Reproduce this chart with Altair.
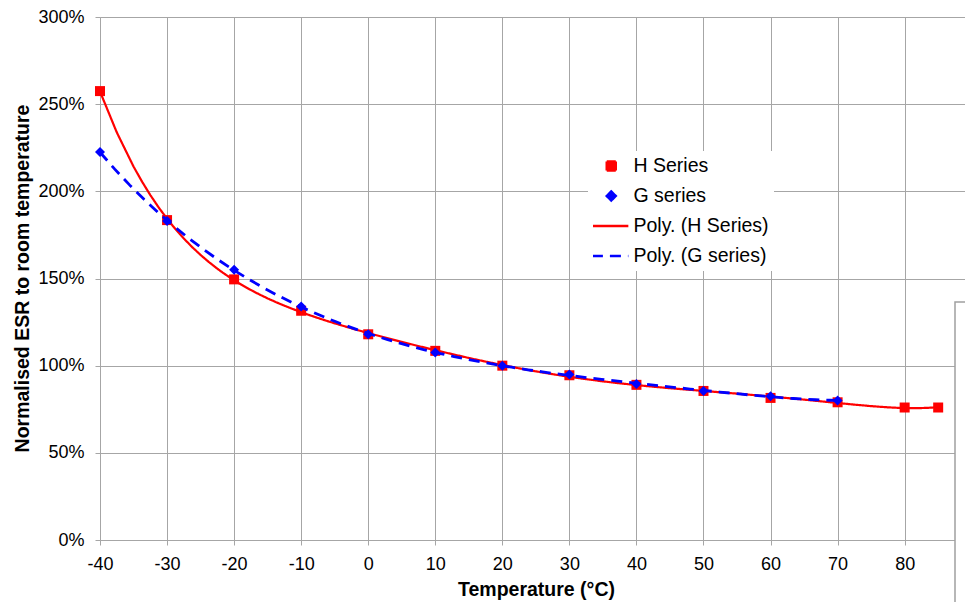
import altair as alt
import pandas as pd

temps_h = [-40, -30, -20, -10, 0, 10, 20, 30, 40, 50, 60, 70, 80, 85]
esr_h = [2.575, 1.835, 1.495, 1.315, 1.18, 1.085, 1.00, 0.945, 0.89, 0.855, 0.815, 0.79, 0.76, 0.76]
temps_g = [-40, -30, -20, -10, 0, 10, 20, 30, 40, 50, 60, 70]
esr_g = [2.225, 1.83, 1.55, 1.34, 1.18, 1.075, 1.00, 0.95, 0.895, 0.855, 0.825, 0.80]

series_names = ["H Series", "G series", "Poly. (H Series)", "Poly. (G series)"]
series_colors = ["#ff0000", "#0000ff", "#ff0000", "#0000ff"]
y_ticks = [0, 0.5, 1.0, 1.5, 2.0, 2.5, 3.0]
x_ticks = [-40, -30, -20, -10, 0, 10, 20, 30, 40, 50, 60, 70, 80]

df = pd.concat([
    pd.DataFrame({"t": temps_h, "v": esr_h, "series": "H Series"}),
    pd.DataFrame({"t": temps_g, "v": esr_g, "series": "G series"}),
], ignore_index=True)

FONT = "Liberation Sans"
GRID = "#a6a6a6"
LINE_PATH = "M-4.3,0H3.8"

xscale = alt.Scale(domain=[-40, 89], nice=False, zero=False)
yscale = alt.Scale(domain=[0, 3], nice=False)

xenc = alt.X("t:Q", scale=xscale,
             axis=alt.Axis(values=x_ticks, title="Temperature (°C)", labelExpr="'' + datum.value",
                           labelFlush=False,
                           titleX=436, titleY=49, titleBaseline="middle"))
yenc = alt.Y("v:Q", scale=yscale,
             axis=alt.Axis(values=y_ticks, format=".0%", title="Normalised ESR to room temperature",
                           labelFlush=False,
                           titleX=-78, titleY=261, titleAngle=270, titleBaseline="middle",
                           titleAlign="center"))

legend = alt.Legend(title=None, orient="none", legendX=488, legendY=134,
                    fillColor="white", padding=5, symbolOffset=8.5, labelOffset=12.5,
                    symbolSize=81,
                    labelFont=FONT, labelFontSize=19.5, labelColor="black",
                    rowPadding=10, clipHeight=20, symbolStrokeWidth=2.5)

color = alt.Color("series:N", scale=alt.Scale(domain=series_names, range=series_colors), legend=legend)
shape = alt.Shape("series:N", scale=alt.Scale(domain=series_names,
                                               range=["square", "diamond", LINE_PATH, LINE_PATH]), legend=legend)
dash = alt.StrokeDash("series:N", scale=alt.Scale(domain=series_names,
                                                   range=[[1, 0], [1, 0], [1, 0], [11, 7]]), legend=legend)

base = alt.Chart(df)

lines_h = base.transform_filter("datum.series == 'H Series'").transform_regression(
    "t", "v", method="poly", order=6, groupby=["series"]
).transform_calculate(
    series="'Poly. (' + datum.series + ')'"
).mark_line(strokeWidth=2.2).encode(x=xenc, y=yenc, color=color, strokeDash=dash)

lines_g = base.transform_filter("datum.series == 'G series'").transform_regression(
    "t", "v", method="poly", order=6, groupby=["series"]
).transform_calculate(
    series="'Poly. (' + datum.series + ')'"
).mark_line(strokeWidth=2.8).encode(x=xenc, y=yenc, color=color, strokeDash=dash)

points = base.mark_point(filled=True, opacity=1, size=100).encode(
    x=xenc, y=yenc, color=color, shape=shape
)

frame = alt.Chart(pd.DataFrame({"k": [0]})).mark_rect(
    fill="white", stroke="#a0a0a0", strokeWidth=1.5
).encode(x=alt.value(855), x2=alt.value(900), y=alt.value(285), y2=alt.value(620))

chart = alt.layer(lines_h, points, lines_g, frame).properties(
    width=865, height=523,
    padding={"left": 100, "top": 17, "right": 0, "bottom": 62},
    autosize=alt.AutoSizeParams(type="none"),
).configure_view(stroke=None).configure_axis(
    gridColor=GRID, domainColor=GRID, tickColor=GRID, gridWidth=1, domainWidth=1,
    tickSize=5, labelFont=FONT, labelFontSize=18, labelColor="black",
    titleFont=FONT, titleFontSize=19.5, titleFontWeight="bold", titleColor="black",
).configure_axisY(labelPadding=11).configure_axisX(labelPadding=10)

chart.save("out.html", embed_options={"renderer": "svg", "actions": False})
